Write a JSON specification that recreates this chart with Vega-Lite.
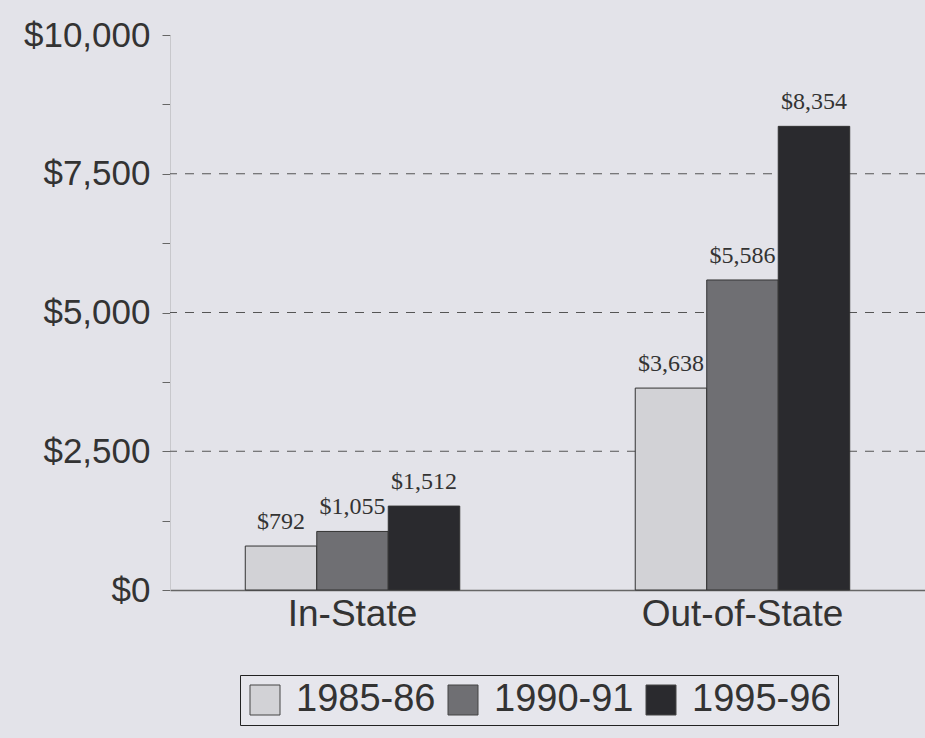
{
  "$schema": "https://vega.github.io/schema/vega-lite/v6.json",
  "width": 755,
  "height": 555,
  "autosize": {"type": "none"},
  "padding": {"left": 170, "top": 35, "right": 0, "bottom": 148},
  "background": "#e3e3e9",
  "config": {"view": {"stroke": null}, "font": "Liberation Sans"},
  "datasets": {
    "tuition": [
      {"residency": "In-State", "year": "1985-86", "cost": 792},
      {"residency": "In-State", "year": "1990-91", "cost": 1055},
      {"residency": "In-State", "year": "1995-96", "cost": 1512},
      {"residency": "Out-of-State", "year": "1985-86", "cost": 3638},
      {"residency": "Out-of-State", "year": "1990-91", "cost": 5586},
      {"residency": "Out-of-State", "year": "1995-96", "cost": 8354}
    ],
    "grid": [{"v": 2500}, {"v": 5000}, {"v": 7500}]
  },
  "layer": [
    {
      "data": {"name": "grid"},
      "mark": {"type": "rule", "strokeDash": [9, 8], "color": "#555", "strokeWidth": 1},
      "encoding": {
        "y": {"field": "v", "type": "quantitative", "scale": {"domain": [0, 10000]}}
      }
    },
    {
      "data": {"name": "tuition"},
      "mark": {"type": "bar", "stroke": "#333", "strokeWidth": 1},
      "encoding": {
        "x": {
          "field": "residency", "type": "nominal",
          "scale": {"paddingInner": 0.45, "paddingOuter": 0.193},
          "axis": {
            "title": null, "labelAngle": 0, "ticks": false, "labelFontSize": 37, "labelLimit": 0,
            "labelColor": "#333", "labelPadding": 6, "domainColor": "#666", "domainWidth": 1.5
          }
        },
        "xOffset": {"field": "year", "type": "nominal", "scale": {"paddingInner": 0}},
        "y": {
          "field": "cost", "type": "quantitative",
          "scale": {"domain": [0, 10000]},
          "axis": {
            "title": null,
            "values": [0, 1250, 2500, 3750, 5000, 6250, 7500, 8750, 10000],
            "labelExpr": "datum.value % 2500 == 0 ? format(datum.value, '$,.0f') : ''",
            "labelFontSize": 35, "labelColor": "#333", "labelPadding": 12,
            "tickSize": 8, "tickColor": "#666", "domainColor": "#c8c8cc", "grid": false
          }
        },
        "color": {
          "field": "year", "type": "nominal",
          "scale": {"domain": ["1985-86", "1990-91", "1995-96"], "range": ["#d2d2d6", "#6f6f73", "#2a2a2e"]},
          "legend": {
            "title": null, "orient": "none", "legendX": 70, "legendY": 640,
            "direction": "horizontal", "columns": 3, "symbolType": "square",
            "symbolSize": 900, "symbolStrokeColor": "#444", "symbolStrokeWidth": 1,
            "labelFontSize": 38, "labelColor": "#333", "labelOffset": 12, "columnPadding": 8,
            "strokeColor": "#222", "padding": 6, "fillColor": "#e6e6ec"
          }
        }
      }
    },
    {
      "data": {"name": "tuition"},
      "mark": {"type": "text", "baseline": "bottom", "dy": -12, "font": "Liberation Serif", "fontSize": 24, "color": "#333"},
      "encoding": {
        "x": {"field": "residency", "type": "nominal"},
        "xOffset": {"field": "year", "type": "nominal"},
        "y": {"field": "cost", "type": "quantitative"},
        "text": {"field": "cost", "type": "quantitative", "format": "$,"}
      }
    }
  ]
}
